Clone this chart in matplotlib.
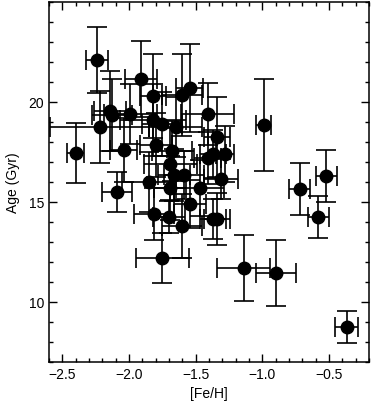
import matplotlib
matplotlib.use("Agg")
import matplotlib.pyplot as plt
from matplotlib.ticker import MultipleLocator, FixedLocator

plt.rcParams['font.family'] = ['Liberation Sans', 'DejaVu Sans']

# [Fe/H] и возраст (Gyr)
feh = [-2.24, -2.40, -2.22, -2.14, -2.13, -1.99, -1.91, -1.82, -1.82, -1.75,
       -1.65, -1.60, -1.545, -1.41, -1.80, -2.04, -1.68, -1.69, -1.66, -1.59,
       -1.85, -1.69, -1.47, -1.41, -1.37, -1.28, -2.09, -1.34, -1.31, -0.99,
       -0.72, -0.52, -1.81, -1.70, -1.60, -1.54, -1.75, -1.37, -1.34, -0.58,
       -1.14, -0.895, -0.365]
age = [22.1, 17.45, 18.75, 19.55, 19.35, 19.4, 21.15, 20.3, 19.1, 18.9,
       18.75, 20.35, 20.7, 19.4, 17.85, 17.6, 17.55, 16.9, 16.35, 16.35,
       16.0, 15.7, 15.7, 17.2, 17.4, 17.4, 15.5, 18.25, 16.15, 18.85,
       15.65, 16.3, 14.4, 14.25, 13.8, 14.9, 12.2, 14.15, 14.15, 14.25,
       11.7, 11.45, 8.75]
feh_err = [0.08, 0.065, 0.37, 0.12, 0.15, 0.2, 0.12, 0.1, 0.25, 0.15,
           0.2, 0.15, 0.1, 0.2, 0.12, 0.1, 0.15, 0.2, 0.12, 0.15,
           0.2, 0.12, 0.18, 0.1, 0.1, 0.07, 0.11, 0.1, 0.13, 0.055,
           0.08, 0.08, 0.15, 0.12, 0.15, 0.12, 0.2, 0.1, 0.1, 0.08,
           0.2, 0.15, 0.087]
age_err = [1.65, 1.5, 1.8, 2.0, 1.8, 1.5, 1.9, 2.1, 1.8, 1.6,
           1.5, 2.05, 2.2, 1.55, 1.6, 1.6, 1.5, 1.8, 1.3, 1.2,
           1.5, 1.6, 1.4, 1.3, 1.2, 1.4, 1.0, 2.0, 1.0, 2.3,
           1.3, 1.3, 1.3, 0.8, 1.6, 1.2, 1.25, 1.0, 1.3, 1.05,
           1.65, 1.65, 0.78]

fig = plt.figure(figsize=(3.73, 4.06), dpi=100)
ax = fig.add_axes([0.131, 0.106, 0.858, 0.887])

ax.errorbar(feh, age, xerr=feh_err, yerr=age_err, fmt='o', color='black',
            ms=9, elinewidth=1.2, capsize=7, capthick=1.2)

ax.set_xlim(-2.6, -0.2)
ax.set_ylim(7, 25)
ax.xaxis.set_major_locator(MultipleLocator(0.5))
ax.xaxis.set_minor_locator(MultipleLocator(0.1))
# подписи только 10, 15, 20 как на оригинале
ax.yaxis.set_major_locator(FixedLocator([10, 15, 20]))
ax.yaxis.set_minor_locator(MultipleLocator(1))
ax.tick_params(which='both', direction='in', top=True, right=True,
               labelsize=10, width=1)
ax.tick_params(which='major', length=6)
ax.tick_params(which='minor', length=3)
for s in ax.spines.values():
    s.set_linewidth(1.1)

ax.set_xlabel("[Fe/H]", fontsize=10, labelpad=4)
ax.set_ylabel("Age (Gyr)", fontsize=10, labelpad=6)

fig.savefig("out.png", dpi=100)
